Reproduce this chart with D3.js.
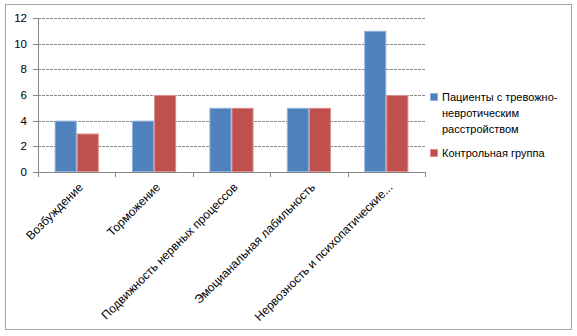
<!DOCTYPE html>
<html><head><meta charset="utf-8">
<script src="https://cdn.jsdelivr.net/npm/d3@7/dist/d3.min.js"></script>
<style>body{margin:0;background:#fff}svg{display:block}text{font-family:"Liberation Sans","DejaVu Sans",sans-serif}</style>
</head><body>
<script>
const categories = ["Возбуждение","Торможение","Подвижность нервных процессов","Эмоцианальная  лабильность","Нервозность и психопатические..."];
const seriesNames = ["Пациенты с тревожно-невротическим расстройством","Контрольная группа"];
const patients = [4,4,5,5,11];
const control = [3,6,5,5,6];
const yTicks = [0,2,4,6,8,10,12];
const colors = ["#4F81BD","#C0504D"];
const strokes = ["#8DB0DA","#DA8E8B"];

const W=577,H=336;
const svg=d3.select("body").append("svg").attr("width",W).attr("height",H);
svg.append("rect").attr("x",5.5).attr("y",4.5).attr("width",566).attr("height",325).attr("fill","#fff").attr("stroke","#a6a6a6");

const m={l:38,r:425,t:18,b:172};
const x=d3.scaleBand().domain(categories).range([m.l,m.r]).paddingInner(0.43).paddingOuter(0.215);
const x1=d3.scaleBand().domain([0,1]).range([0,x.bandwidth()]);
const y=d3.scaleLinear().domain([0,12]).range([m.b,m.t]);

// gridlines
svg.append("g").selectAll("line").data(yTicks.filter(d=>d>0)).join("line")
 .attr("x1",m.l).attr("x2",m.r).attr("y1",d=>Math.round(y(d))+0.5).attr("y2",d=>Math.round(y(d))+0.5)
 .attr("stroke","#8a8a8a").attr("stroke-width",1).attr("stroke-dasharray","3,1");

// bars
const data=[patients,control];
const g=svg.append("g");
categories.forEach((c,i)=>{
  data.forEach((s,j)=>{
    g.append("rect").attr("x",x(c)+x1(j)+0.5).attr("y",y(s[i])+0.5)
     .attr("width",x1.bandwidth()-1).attr("height",y(0)-y(s[i])-1)
     .attr("fill",colors[j]).attr("stroke",strokes[j]).attr("stroke-width",1);
  });
});

// y axis
const ya=svg.append("g");
ya.append("line").attr("x1",m.l+0.5).attr("x2",m.l+0.5).attr("y1",m.t).attr("y2",m.b).attr("stroke","#868686");
ya.selectAll("line.t").data(yTicks).join("line").attr("class","t")
 .attr("x1",m.l-5).attr("x2",m.l).attr("y1",d=>Math.round(y(d))+0.5).attr("y2",d=>Math.round(y(d))+0.5).attr("stroke","#868686");
ya.selectAll("text").data(yTicks).join("text")
 .attr("x",27).attr("y",d=>y(d)).attr("dy","0.35em").attr("text-anchor","end")
 .attr("font-size",11.5).attr("fill","#000").text(d=>d);

// x axis
const xa=svg.append("g");
xa.append("line").attr("x1",m.l).attr("x2",m.r).attr("y1",m.b+0.5).attr("y2",m.b+0.5).attr("stroke","#868686");
const tickXs=d3.range(categories.length+1).map(i=>m.l+i*(m.r-m.l)/categories.length);
xa.selectAll("line.t").data(tickXs).join("line").attr("class","t")
 .attr("x1",d=>Math.round(d)+0.5).attr("x2",d=>Math.round(d)+0.5).attr("y1",m.b).attr("y2",m.b+5).attr("stroke","#868686");
xa.selectAll("text").data(categories).join("text")
 .attr("transform",d=>`translate(${x(d)+x.bandwidth()/2+4},${m.b+13}) rotate(-45)`)
 .attr("text-anchor","end").attr("dy","0.35em").attr("font-size",12).attr("fill","#000").text(d=>d);

// legend
const lg=svg.append("g");
const legendLines=[["Пациенты с тревожно-","невротическим","расстройством"],["Контрольная группа"]];
const legendY=[97,153];
legendLines.forEach((lines,j)=>{
  lg.append("rect").attr("x",430.5).attr("y",legendY[j]-3.5).attr("width",7).attr("height",7)
    .attr("fill",colors[j]).attr("stroke",strokes[j]);
  lines.forEach((t,k)=>{
    lg.append("text").attr("x",442).attr("y",legendY[j]+k*16).attr("dy","0.35em")
      .attr("font-size",11).attr("fill","#000").text(t);
  });
});
</script>
</body></html>
